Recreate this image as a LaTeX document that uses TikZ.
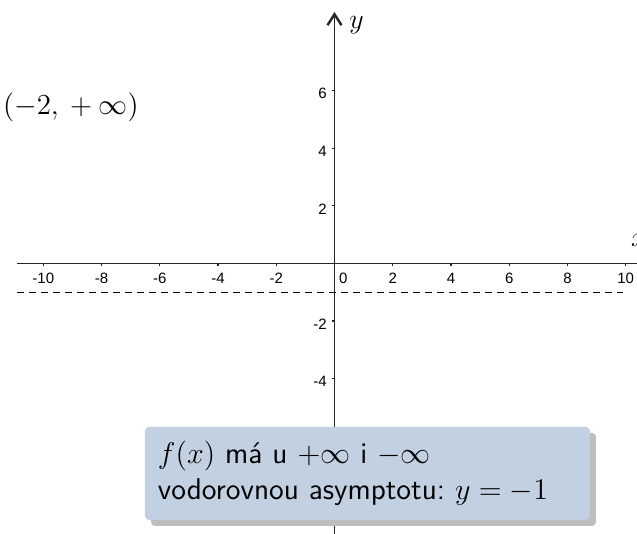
\documentclass[tikz,border=0pt]{standalone}
\usepackage{fix-cm}
\usepackage{fontspec}
\usepackage{tikz}
\usetikzlibrary{
  arrows.meta,
  shadows
}
\newfontfamily\asymTickFont{Liberation Sans}
\definecolor{asymBox}{HTML}{C2D1E1}
\definecolor{asymShadow}{HTML}{BEBEBE}
\definecolor{asymAxisGray}{HTML}{262626}
\tikzset{
  asymAxis/.style={asymAxisGray, line width=0.75pt},
  asymTick/.style={asymAxisGray, line width=0.6pt},
  tickLabel/.style={
    font=\asymTickFont\fontsize{7.5}{8.5}\selectfont,
    inner sep=0pt
  },
  asymptoteLine/.style={black, line width=0.5pt, dash pattern=on 3.5pt off 2.5pt},
  axisName/.style={font=\fontsize{14}{16}\selectfont, inner sep=0pt},
  intervalLabel/.style={font=\fontsize{14.5}{17}\selectfont, inner sep=0pt},
  noteBox/.style={
    fill=asymBox,
    rounded corners=2pt,
    drop shadow={shadow xshift=3pt, shadow yshift=-3pt, fill=asymShadow, opacity=1},
    font=\sffamily\fontsize{15}{18.3}\selectfont,
    align=left,
    minimum width=222.5pt,
    minimum height=46.5pt,
    text width=209.5pt,
    inner xsep=6.5pt
  }
}
\frenchspacing

\begin{document}
\begin{tikzpicture}[x=14.56pt,y=14.4pt]
  \useasboundingbox (-11.487,-9.392) rectangle (10.388,9.149);
  \coordinate (xLeft) at (-10.89,0);
  \coordinate (xRight) at (10.8,0);
  \coordinate (yBottom) at (0,-9.6);
  \coordinate (yTop) at (0,8.733);
  \coordinate (asymLeft) at (-10.89,-1);
  \coordinate (asymRight) at (9.91,-1);
  \draw[asymptoteLine] (asymLeft) -- (asymRight);
  \draw[asymAxis] (xLeft) -- (xRight);
  \draw[asymAxis, -{Straight Barb[length=5.5pt,width=7pt,line width=1.2pt]}] (yBottom) -- (yTop);
  \foreach \k [count=\i] in {-10,-8,...,-2,2,4,...,10}{
    \draw[asymTick] (\k,0) -- (\k,-0.08);
    \node[tickLabel, anchor=north] (xTick\i) at (\k,-0.33) {\k};
  }
  \node[tickLabel, anchor=north] (xTickZero) at (0.30,-0.33) {0};
  \foreach \k [count=\i] in {-4,-2,2,4,6}{
    \draw[asymTick] (0,\k) -- (-0.08,\k);
    \node[tickLabel, anchor=east] (yTick\i) at (-0.25,\k-0.1) {\k};
  }
  \node[axisName] (xName) at (10.45,0.8) {$x$};
  \node[axisName] (yName) at (0.755,8.28) {$y$};
  \node[intervalLabel] (interval) at (-9.05,5.42) {$(-2,{}+\infty)$};
  \node[noteBox] (noteAsym) at (1.133,-7.29)
    {$f(x)$ má u $+\infty$ i $-\infty$\\
    vodorovnou asymptotu: $y=-1$};
\end{tikzpicture}
\end{document}
